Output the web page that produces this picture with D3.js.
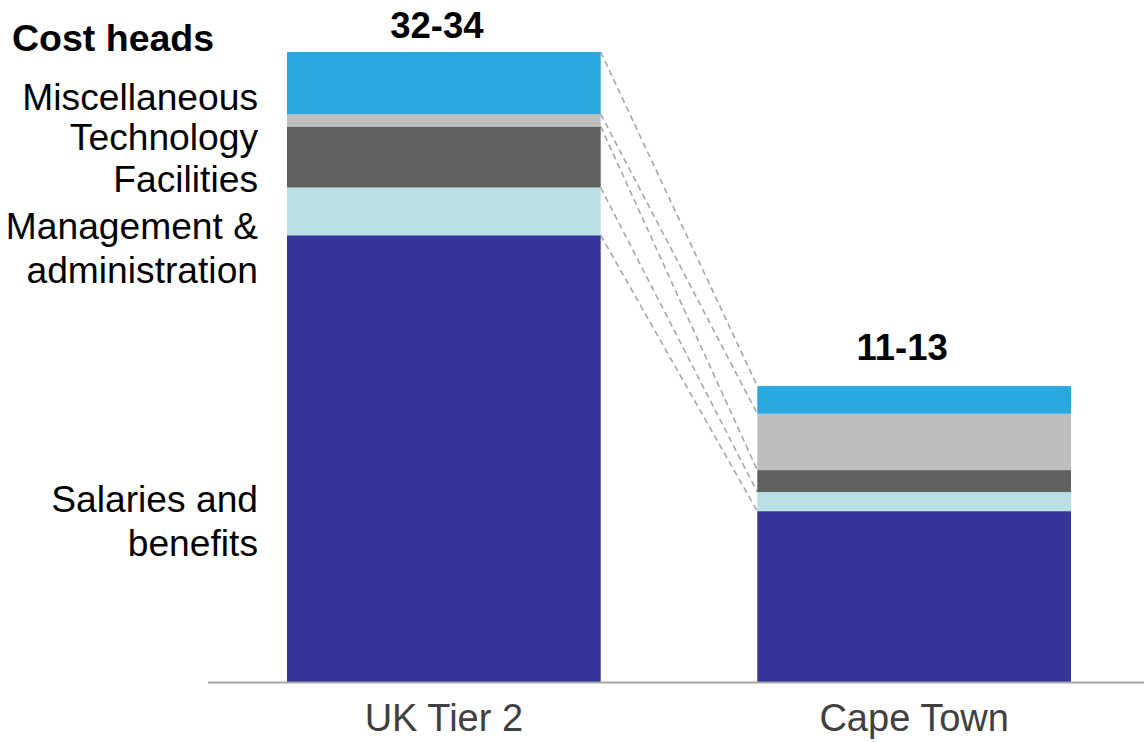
<!DOCTYPE html>
<html>
<head>
<meta charset="utf-8">
<script src="https://cdn.jsdelivr.net/npm/d3@7"></script>
<style>
  html, body { margin: 0; padding: 0; background: #fff; }
  svg { display: block; font-family: "Liberation Sans", Arial, sans-serif; }
</style>
</head>
<body>
<svg id="chart" width="1144" height="742"></svg>
<script>
// Locations compared
const locations = ["UK Tier 2", "Cape Town"];
// Cost heads, bottom to top of each stack
const costHeads = ["Salaries and benefits", "Management & administration", "Facilities", "Technology", "Miscellaneous"];
// Segment values per location (same order as costHeads)
const ukTier2 = [23.4, 2.5, 3.2, 0.65, 3.25];
const capeTown = [8.95, 1.0, 1.15, 2.95, 1.45];
// Range labels shown above each stack
const totalLabels = ["32-34", "11-13"];
// Cost-head labels, as drawn on the left (one array of lines per head)
const headLabelLines = [["Salaries and", "benefits"], ["Management &", "administration"], ["Facilities"], ["Technology"], ["Miscellaneous"]];

const colors = ["#343499", "#B9E0E4", "#606060", "#BEBEBE", "#29A8E0"];

const svg = d3.select("#chart");
const W = 1144, H = 742;
const baseY = 682, topY = 52;

const seriesByLocation = [ukTier2, capeTown];
const rows = locations.map((loc, i) => {
  const r = { location: loc };
  costHeads.forEach((h, j) => r[h] = seriesByLocation[i][j]);
  return r;
});
const stacked = d3.stack().keys(costHeads)(rows);

const x = d3.scaleBand().domain(locations).range([208, 1150]).paddingInner(0.333).paddingOuter(0.168);
const y = d3.scaleLinear().domain([0, d3.sum(ukTier2)]).range([baseY, topY]);

// Dashed connectors between the tops of matching segments
const connectors = svg.append("g");
stacked.forEach(layer => {
  connectors.append("line")
    .attr("x1", x(locations[0]) + x.bandwidth())
    .attr("y1", y(layer[0][1]))
    .attr("x2", x(locations[1]))
    .attr("y2", y(layer[1][1]))
    .attr("stroke", "#A6A6A6")
    .attr("stroke-width", 1.6)
    .attr("stroke-dasharray", "6,4");
});

// Stacked bars
svg.append("g").selectAll("g")
  .data(stacked)
  .join("g")
  .attr("fill", (d, i) => colors[i])
  .selectAll("rect")
  .data(d => d)
  .join("rect")
  .attr("x", d => x(d.data.location))
  .attr("width", x.bandwidth())
  .attr("y", d => y(d[1]))
  .attr("height", d => y(d[0]) - y(d[1]));

// Baseline axis with category labels
const xAxis = d3.axisBottom(x).tickSize(0).tickPadding(0);
const ax = svg.append("g").attr("transform", `translate(0,${baseY})`).call(xAxis);
ax.select(".domain").remove();
ax.selectAll("text")
  .attr("font-family", "Liberation Sans, Arial, sans-serif")
  .attr("font-size", 38)
  .attr("fill", "#404040")
  .attr("dy", 0)
  .attr("y", 49);
svg.append("line")
  .attr("x1", 208).attr("x2", W)
  .attr("y1", baseY + 0.5).attr("y2", baseY + 0.5)
  .attr("stroke", "#A6A6A6")
  .attr("stroke-width", 2);

// Range labels above stacks (small hand-set nudges)
const totalNudgeX = [-7, -12];
const totalGapY = [14, 26];
svg.append("g").selectAll("text")
  .data(locations)
  .join("text")
  .attr("x", (d, i) => x(d) + x.bandwidth() / 2 + totalNudgeX[i])
  .attr("y", (d, i) => y(d3.sum(seriesByLocation[i])) - totalGapY[i])
  .attr("text-anchor", "middle")
  .attr("font-size", 36.5)
  .attr("font-weight", "bold")
  .attr("fill", "#000")
  .text((d, i) => totalLabels[i]);

// Left-hand cost-head labels
svg.append("text")
  .attr("x", 12).attr("y", 51)
  .attr("font-size", 37.5)
  .attr("font-weight", "bold")
  .attr("fill", "#000")
  .text("Cost heads");

const labelBaselines = [512, 239, 192, 150, 110];
const lineGap = 44;
const labelX = 258;
const labels = svg.append("g");
headLabelLines.forEach((lines, i) => {
  lines.forEach((ln, k) => {
    labels.append("text")
      .attr("x", labelX)
      .attr("y", labelBaselines[i] + k * lineGap)
      .attr("text-anchor", "end")
      .attr("font-size", 37.2)
      .attr("fill", "#000")
      .text(ln);
  });
});
</script>
</body>
</html>
